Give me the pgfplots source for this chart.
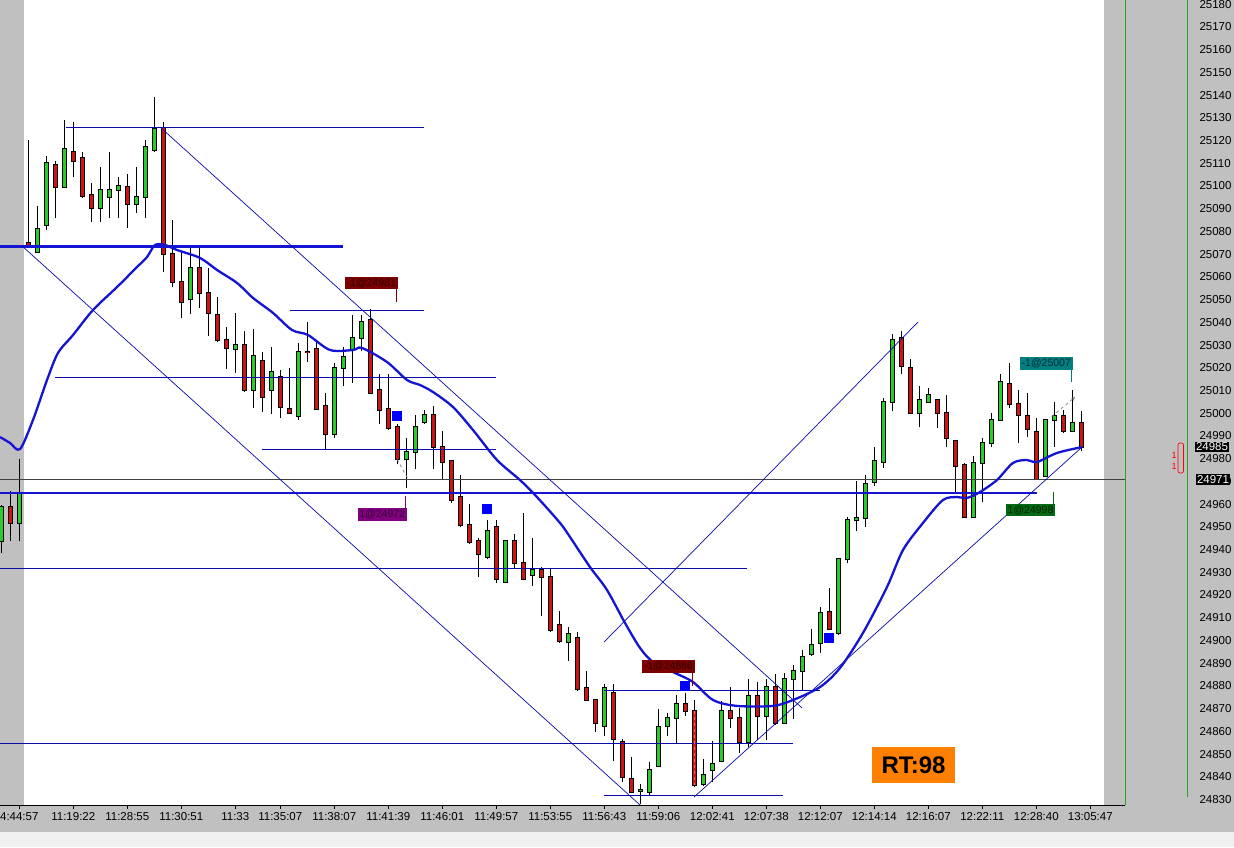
\documentclass[border=0pt]{standalone}
\usepackage{pgfplots}
\usepackage{pgfplotstable}
\usepackage{fontspec}
\setmainfont{Liberation Sans}
\pgfplotsset{compat=1.18}

\definecolor{bggray}{RGB}{192,192,192}
\definecolor{stripgray}{RGB}{240,240,240}
\definecolor{upgreen}{RGB}{40,205,40}
\definecolor{downred}{RGB}{205,20,20}
\definecolor{thinblue}{RGB}{10,10,170}
\definecolor{mablue}{RGB}{20,20,210}
\definecolor{sqblue}{RGB}{0,0,255}
\definecolor{lvlgreen}{RGB}{30,170,30}
\definecolor{lblred}{RGB}{125,0,0}
\definecolor{lblredtxt}{RGB}{45,0,0}
\definecolor{lblpurple}{RGB}{128,0,128}
\definecolor{lblpurpletxt}{RGB}{55,0,55}
\definecolor{lblteal}{RGB}{0,128,128}
\definecolor{lbltealtxt}{RGB}{0,40,55}
\definecolor{lblgreen}{RGB}{0,105,20}
\definecolor{lblgreentxt}{RGB}{0,35,0}
\definecolor{rtorange}{RGB}{255,128,0}

% bar index, open, high, low, close
\pgfplotstableread{
i o h l c
-2 24943.8 24959.6 24938.5 24958.7
-1 24958.7 24965.8 24943.8 24951.7
0 24951.7 24979.8 24943.8 24964.4
1 25074.9 25120.2 25073.1 25073.1
2 25070.9 25091.2 25070.5 25081.0
3 25082.8 25113.2 25080.6 25110.1
4 25109.2 25111.0 25085.9 25099.5
5 25099.5 25129.0 25099.1 25116.2
6 25114.9 25128.1 25103.9 25111.0
7 25112.3 25114.9 25094.7 25095.6
8 25096.0 25101.3 25084.1 25090.3
9 25090.3 25108.3 25084.1 25098.2
10 25095.1 25114.9 25085.9 25098.2
11 25098.2 25103.9 25085.9 25100.0
12 25099.5 25105.2 25081.5 25092.0
13 25092.0 25108.3 25088.1 25095.1
14 25095.1 25120.2 25085.9 25117.1
15 25115.8 25139.1 25114.9 25125.0
16 25125.5 25128.1 25062.1 25070.0
17 25070.0 25085.0 25055.5 25057.7
18 25057.7 25070.9 25041.9 25048.9
19 25050.2 25073.1 25043.6 25063.9
20 25063.9 25074.0 25046.3 25052.9
21 25052.9 25063.9 25034.0 25044.1
22 25043.2 25051.1 25031.3 25032.2
23 25032.2 25037.9 25019.4 25028.7
24 25028.2 25044.1 25017.7 25030.0
25 25030.0 25036.2 25009.3 25010.2
26 25010.2 25037.0 25002.3 25025.2
27 25023.0 25026.9 25000.5 25007.1
28 25010.2 25029.1 24999.6 25018.1
29 25015.9 25019.0 24997.9 25002.7
30 25001.8 25019.9 24999.6 25000.1
31 24998.8 25030.9 24997.0 25026.9
32 25026.9 25040.1 25022.5 25026.7
33 25028.2 25031.8 25001.4 25001.8
34 25003.2 25008.9 24983.8 24990.8
35 24990.8 25022.1 24989.1 25019.9
36 25019.9 25029.1 25012.0 25024.7
37 25028.2 25043.2 25013.3 25033.1
38 25033.1 25043.2 25027.4 25040.1
39 25041.0 25045.8 25008.4 25008.9
40 25010.2 25017.2 24995.2 25001.4
41 25001.8 25017.2 24992.6 24993.5
42 24993.9 24995.2 24977.6 24979.8
43 24979.8 24989.1 24967.1 24982.9
44 24982.9 24999.2 24975.4 24993.9
45 24996.1 25001.4 24995.2 24999.2
46 24999.2 25003.2 24975.4 24985.1
47 24985.1 24992.2 24971.0 24978.5
48 24978.9 24979.4 24960.5 24961.8
49 24963.1 24972.8 24949.9 24950.8
50 24950.8 24960.0 24942.4 24943.3
51 24943.8 24945.1 24927.9 24938.0
52 24936.7 24953.0 24935.8 24948.2
53 24949.9 24953.0 24925.3 24927.0
54 24925.7 24944.2 24925.3 24943.8
55 24943.8 24946.8 24931.4 24934.1
56 24934.1 24956.1 24926.6 24927.0
57 24928.8 24945.1 24924.0 24931.0
58 24931.0 24932.3 24910.8 24927.9
59 24927.9 24931.4 24903.7 24904.6
60 24906.8 24913.0 24898.9 24899.8
61 24899.3 24905.9 24891.0 24902.8
62 24901.1 24903.7 24877.8 24878.6
63 24879.1 24886.6 24873.4 24873.8
64 24873.8 24873.8 24859.7 24863.7
65 24862.4 24880.8 24858.0 24879.1
66 24876.9 24880.8 24846.9 24856.6
67 24855.3 24856.6 24837.7 24839.9
68 24839.0 24848.7 24832.9 24833.3
69 24833.8 24836.8 24828.0 24834.2
70 24833.3 24846.5 24832.0 24843.0
71 24844.8 24869.8 24844.3 24861.9
72 24862.4 24868.1 24858.0 24865.9
73 24865.9 24876.0 24854.4 24872.0
74 24872.0 24876.9 24866.8 24869.0
75 24869.0 24873.8 24835.5 24836.4
76 24836.8 24847.8 24836.0 24840.8
77 24843.0 24855.8 24837.7 24845.6
78 24846.9 24873.4 24846.5 24869.0
79 24869.0 24879.5 24861.5 24865.9
80 24865.9 24870.3 24850.5 24855.3
81 24855.3 24883.0 24853.1 24875.6
82 24875.6 24881.7 24856.2 24866.8
83 24866.8 24883.0 24856.2 24879.5
84 24879.5 24885.2 24862.8 24863.7
85 24863.7 24885.7 24863.2 24883.0
86 24883.0 24889.2 24865.4 24886.6
87 24886.6 24895.8 24877.8 24892.7
88 24894.0 24905.0 24893.2 24898.0
89 24898.9 24914.7 24894.5 24912.1
90 24912.5 24923.1 24904.6 24905.0
91 24903.3 24936.3 24902.4 24935.8
92 24935.8 24954.3 24934.1 24953.0
93 24953.0 24970.2 24948.2 24953.9
94 24953.9 24972.8 24949.9 24968.8
95 24969.7 24985.1 24968.0 24978.9
96 24978.5 25006.7 24975.9 25004.9
97 25004.9 25034.8 25001.0 25032.2
98 25033.1 25036.2 25017.2 25020.8
99 25019.9 25023.8 24999.6 25000.1
100 25000.1 25012.0 24993.9 25005.8
101 25004.9 25011.1 25004.5 25008.0
102 25005.8 25006.2 24993.5 25000.1
103 25000.1 25008.0 24985.1 24989.1
104 24987.8 24988.2 24965.3 24976.8
105 24977.2 24978.1 24953.9 24954.3
106 24954.3 24981.2 24953.9 24978.1
107 24978.1 24989.1 24960.9 24986.9
108 24986.9 25000.1 24985.1 24997.0
109 24997.0 25017.2 24996.6 25013.7
110 25012.8 25022.1 25002.3 25004.0
111 25004.0 25010.2 24986.9 24999.2
112 24998.8 25008.9 24989.5 24993.0
113 24991.7 24997.9 24970.6 24971.0
114 24972.4 24997.4 24971.9 24997.0
115 24997.0 25004.9 24985.1 24998.8
116 24998.8 25001.4 24991.3 24992.2
117 24992.2 25010.2 24991.7 24995.7
118 24995.7 25001.0 24983.4 24985.1
}\candles

\pgfplotsset{
  candlepart/.style={only marks, mark=*, mark size=0pt,
    mark options={draw=none, fill=none}, forget plot},
}

\begin{document}
\begin{tikzpicture}
  \useasboundingbox (0pt,0pt) rectangle (1234pt,847pt);
  \fill[bggray] (0pt,0pt) rectangle (1234pt,847pt);
  \fill[stripgray] (0pt,0pt) rectangle (1234pt,15pt);
  \fill[white] (24pt,42pt) rectangle (1104pt,847pt);

  \begin{axis}[
      at={(0pt,42pt)}, anchor=south west,
      scale only axis, width=1125pt, height=805pt,
      xmin=-2.1444, xmax=122.8556,
      ymin=24827.6, ymax=25181.8,
      axis x line*=bottom, axis y line*=right,
      x axis line style={-, black, line width=1pt},
      y axis line style={draw=none},
      tick align=outside, major tick length=4pt,
      xtick={0,6,12,18,24,29,35,41,47,53,59,65,71,77,83,89,95,101,107,113,119},
      xticklabels={4:44:57,11:19:22,11:28:55,11:30:51,11:33,11:35:07,11:38:07,
        11:41:39,11:46:01,11:49:57,11:53:55,11:56:43,11:59:06,12:02:41,12:07:38,
        12:12:07,12:14:14,12:16:07,12:22:11,12:28:40,13:05:47},
      x tick style={black, line width=0.8pt},
      ytick={24830,24840,...,25180},
      yticklabels={24830,24840,24850,24860,24870,24880,24890,24900,24910,24920,
        24930,24940,24950,24960,24970,24980,24990,25000,25010,25020,25030,25040,
        25050,25060,25070,25080,25090,25100,25110,25120,25130,25140,25150,25160,
        25170,25180},
      y tick style={draw=none},
      yticklabel style={xshift=67pt},
      ticklabel style={font=\fontsize{11.5}{13}\selectfont, text=black},
    ]

    % wicks
    \addplot[candlepart,
      error bars/.cd, y dir=plus, y explicit, error mark=none,
      error bar style={line width=1pt, black}]
      table[x=i, y=l, y error plus expr={\thisrow{h}-\thisrow{l}}] {\candles};
    % body outlines
    \addplot[candlepart,
      error bars/.cd, y dir=plus, y explicit, error mark=none,
      error bar style={line width=5pt, black}]
      table[x=i, y expr={min(\thisrow{o},\thisrow{c})-0.44},
        y error plus expr={abs(\thisrow{c}-\thisrow{o})+0.88}] {\candles};
    % up bodies
    \addplot[candlepart,
      error bars/.cd, y dir=plus, y explicit, error mark=none,
      error bar style={line width=3pt, upgreen}]
      table[x=i, y expr={min(\thisrow{o},\thisrow{c})},
        y error plus expr={max(\thisrow{c}-\thisrow{o},0)}] {\candles};
    % down bodies
    \addplot[candlepart,
      error bars/.cd, y dir=plus, y explicit, error mark=none,
      error bar style={line width=3pt, downred}]
      table[x=i, y expr={min(\thisrow{o},\thisrow{c})},
        y error plus expr={max(\thisrow{o}-\thisrow{c},0)}] {\candles};

    % price levels
    \addplot[thinblue, line width=1pt] coordinates {(5.19,25125.9) (44.97,25125.9)};
    \addplot[mablue, line width=2.4pt] coordinates {(-2.2,25073.3) (35.97,25073.3)};
    \addplot[thinblue, line width=1pt] coordinates {(30.08,25045.0) (44.97,25045.0)};
    \addplot[thinblue, line width=1pt] coordinates {(3.97,25015.8) (52.97,25015.8)};
    \addplot[thinblue, line width=1pt] coordinates {(27.0,24983.8) (52.97,24983.8)};
    \addplot[black!75, line width=0.9pt] coordinates {(-2.2,24970.9) (123,24970.9)};
    \addplot[mablue, line width=2.4pt] coordinates {(-2.2,24965.0) (113.08,24965.0)};
    \addplot[thinblue, line width=1pt] coordinates {(-2.2,24931.7) (80.9,24931.7)};
    \addplot[thinblue, line width=1pt] coordinates {(65.0,24877.8) (88.97,24877.8)};
    \addplot[thinblue, line width=1pt] coordinates {(-2.2,24854.7) (85.97,24854.7)};
    \addplot[thinblue, line width=1pt] coordinates {(65.0,24832.0) (84.9,24832.0)};

    % trend lines
    \addplot[thinblue, line width=0.7pt] coordinates {(15.64,25125.9) (86.97,24870.3)};
    \addplot[thinblue, line width=0.7pt] coordinates {(0.3,25073.6) (68.97,24827.6)};
    \addplot[thinblue, line width=0.7pt] coordinates {(64.97,24899.3) (99.86,25040.1)};
    \addplot[thinblue, line width=0.7pt] coordinates {(74.97,24831.1) (118.08,24985.1)};

    % trade connectors
    \addplot[gray, dashed, line width=0.7pt] coordinates {(41.98,24979.7) (43.16,24971.3)};
    \addplot[gray, dashed, line width=0.7pt, -stealth] coordinates {(114.71,24998.5) (117.3,25007.1)};
    \addplot[red!60, dashed, line width=0.7pt] coordinates {(74.97,24868.9) (74.97,24836.4)};

    % moving average
    \addplot[mablue, line width=2.3pt, line join=round, smooth, tension=0.5] coordinates {
      (-2.14,24989.5) (-1.03,24986.9) (0.08,24984.2) (1.52,24997.0) (3.08,25014.6)
      (4.30,25026.5) (5.97,25034.4) (8.19,25045.4) (10.86,25055.5) (13.08,25064.3)
      (14.19,25068.7) (15.08,25074.0) (16.19,25074.0) (17.52,25071.8) (20.08,25068.3)
      (21.97,25063.0) (24.19,25057.3) (25.97,25050.7) (28.19,25044.1) (30.30,25036.6)
      (32.08,25034.4) (34.52,25027.8) (37.08,25027.8) (38.08,25028.7) (40.86,25022.5)
      (43.08,25014.6) (44.52,25012.4) (45.97,25009.3) (48.19,25002.7) (50.41,24992.6)
      (53.08,24979.4) (55.63,24970.6) (57.52,24963.1) (60.08,24951.7) (61.19,24945.5)
      (63.41,24932.3) (65.30,24922.2) (67.30,24907.7) (68.97,24896.7) (70.41,24890.5)
      (72.63,24886.1) (74.86,24881.7) (77.08,24873.8) (79.74,24871.2) (83.74,24871.2)
      (85.97,24873.8) (88.97,24879.5) (91.19,24887.9) (93.74,24903.3) (96.41,24923.5)
      (98.19,24939.8) (100.41,24951.7) (102.63,24961.8) (104.19,24963.1) (105.30,24962.7)
      (106.74,24965.3) (108.63,24970.6) (110.41,24978.1) (111.97,24979.4) (113.08,24978.5)
      (115.30,24982.5) (118.08,24985.1)};

    % signal squares
    \addplot[only marks, mark=square*, mark size=4.6pt, sqblue] coordinates {
      (41.93,24998.8) (51.93,24958.1) (73.97,24880.0) (89.97,24901.1)};

    % order labels with pointers
    \addplot[lblred, line width=0.8pt] coordinates {(41.93,25054.6) (41.93,25048.9)};
    \node[fill=lblred, text=lblredtxt, inner sep=0pt, minimum width=53pt, minimum height=12.5pt,
      font=\fontsize{10.5}{11}\selectfont] at (axis cs:39.11,25057.3) {-1@24981};
    \addplot[lblpurple, line width=0.8pt] coordinates {(42.91,24963.6) (42.91,24958.3)};
    \node[fill=lblpurple, text=lblpurpletxt, inner sep=0pt, minimum width=49pt, minimum height=12.5pt,
      font=\fontsize{10.5}{11}\selectfont] at (axis cs:40.32,24955.5) {1@24972};
    \addplot[lblred, line width=0.8pt] coordinates {(74.82,24885.8) (74.82,24880.0)};
    \node[fill=lblred, text=lblredtxt, inner sep=0pt, minimum width=53pt, minimum height=12.5pt,
      font=\fontsize{10.5}{11}\selectfont] at (axis cs:72.13,24888.6) {-1@24866};
    \addplot[lblteal, line width=0.8pt] coordinates {(116.93,25019.0) (116.93,25013.7)};
    \node[fill=lblteal, text=lbltealtxt, inner sep=0pt, minimum width=53pt, minimum height=13pt,
      font=\fontsize{10.5}{11}\selectfont] at (axis cs:114.11,25021.9) {-1@25007};
    \addplot[lblgreen, line width=0.8pt] coordinates {(114.89,24965.3) (114.89,24960.0)};
    \node[fill=lblgreen, text=lblgreentxt, inner sep=0pt, minimum width=49pt, minimum height=12.5pt,
      font=\fontsize{10.5}{11}\selectfont] at (axis cs:112.36,24957.3) {1@24998};
  \end{axis}

  % right price scale decorations
  \draw[lvlgreen, line width=1pt] (1125.5pt,42pt) -- (1125.5pt,847pt);
  \draw[lvlgreen, line width=1pt] (1187pt,50pt) -- (1187pt,847pt);
  \node[fill=black, text=white, inner sep=0.6pt, font=\fontsize{11.5}{12}\selectfont]
    at (1212pt,400pt) {24985};
  \node[fill=black, text=white, inner sep=1.2pt, font=\fontsize{11.5}{12}\selectfont]
    at (1213pt,367.7pt) {24971};
  \node[text=red, inner sep=0pt, font=\fontsize{9}{9}\selectfont] at (1174pt,392pt) {1};
  \node[text=red, inner sep=0pt, font=\fontsize{9}{9}\selectfont] at (1174pt,381pt) {1};
  \draw[red, line width=0.7pt, rounded corners=2pt] (1178pt,374pt) rectangle (1183.5pt,404pt);

  % round-trip counter
  \node[fill=rtorange, text=black, minimum width=83pt, minimum height=36pt, inner sep=0pt,
    font=\fontsize{24}{24}\selectfont\bfseries] at (913.5pt,82pt) {RT:98};
\end{tikzpicture}
\end{document}
